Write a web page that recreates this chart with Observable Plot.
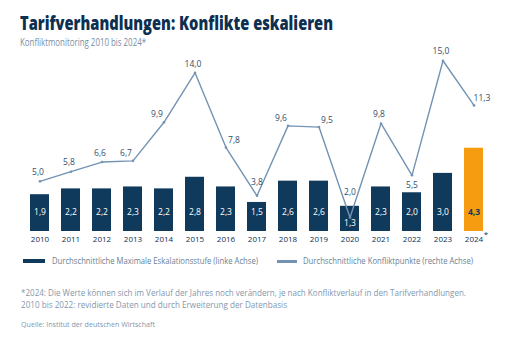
<!DOCTYPE html>
<html>
<head>
<meta charset="utf-8">
<script src="https://cdn.jsdelivr.net/npm/d3@7"></script>
<script src="https://cdn.jsdelivr.net/npm/@observablehq/plot@0.6"></script>
<style>
  html, body { margin: 0; padding: 0; background: #fff; }
  body { width: 510px; height: 340px; position: relative; overflow: hidden; font-family: "Open Sans", sans-serif; }
  .t { position: absolute; white-space: nowrap; transform-origin: 0 50%; line-height: 1; }
  #title { left: 20px; top: 13px; font-size: 20px; font-weight: 800; color: #0d2f50; }
  #subtitle { left: 20px; top: 37px; font-size: 10px; color: #7a8ea4; }
  #chart { position: absolute; left: 0; top: 45px; }
  .leg { position: absolute; top: 256px; font-size: 9px; color: #6b7f95; }
  .note { left: 21px; font-size: 9px; color: #8497ad; }
  #src { left: 21px; top: 320px; font-size: 8px; color: #8497ad; }
  .sw { position: absolute; }
</style>
</head>
<body>
<div id="title" class="t" data-w="313">Tarifverhandlungen: Konflikte eskalieren</div>
<div id="subtitle" class="t" data-w="126">Konfliktmonitoring 2010 bis 2024*</div>
<div id="chart"></div>
<div class="sw" style="left:23px;top:259px;width:22px;height:4px;background:#0f3a5c"></div>
<div class="t leg" style="left:52px" data-w="206">Durchschnittliche Maximale Eskalationsstufe (linke Achse)</div>
<div class="sw" style="left:277px;top:260px;width:20px;height:2.5px;background:#7393b3"></div>
<div class="t leg" style="left:303px" data-w="170">Durchschnittliche Konfliktpunkte (rechte Achse)</div>
<div class="t note" style="top:288px" data-w="445">*2024: Die Werte können sich im Verlauf der Jahres noch verändern, je nach Konfliktverlauf in den Tarifverhandlungen.</div>
<div class="t note" style="top:300px" data-w="266">2010 bis 2022: revidierte Daten und durch Erweiterung der Datenbasis</div>
<div id="src" class="t" data-w="134">Quelle: Institut der deutschen Wirtschaft</div>
<script>
const years = ["2010","2011","2012","2013","2014","2015","2016","2017","2018","2019","2020","2021","2022","2023","2024"];
const escalation = [1.9, 2.2, 2.2, 2.3, 2.2, 2.8, 2.3, 1.5, 2.6, 2.6, 1.3, 2.3, 2.0, 3.0, 4.3];
const conflictPoints = [5.0, 5.8, 6.6, 6.7, 9.9, 14.0, 7.8, 3.8, 9.6, 9.5, 2.0, 9.8, 5.5, 15.0, 11.3];
const highlightYear = "2024";

// dual axis: left axis domain and right axis domain share the same vertical span
const leftDomain = [0, 9.5];
const rightDomain = [0.84, 16.1];
const toLeft = v => (v - rightDomain[0]) / (rightDomain[1] - rightDomain[0]) * (leftDomain[1] - leftDomain[0]) + leftDomain[0];

const fmt = v => v.toFixed(1).replace(".", ",");
const navy = "#0f3a5c", orange = "#f59c10", lineCol = "#7393b3", labCol = "#2e4f6e";

const data = years.map((y, i) => ({year: y, esc: escalation[i], pts: conflictPoints[i], ptsL: toLeft(conflictPoints[i])}));

// label placements for the line values
const leftLab = ["2013", "2014", "2018"];
const rightLab = ["2016", "2019", "2024"];
const belowLab = ["2022"];
const highLab = ["2017"];
const barAbove = ["2020"];
const other = d => ![...leftLab, ...rightLab, ...belowLab, ...highLab, ...barAbove].includes(d.year);

const barLabelLevel = 1.0;
const isHi = d => d.year === highlightYear;

const plot = Plot.plot({
  width: 510,
  height: 205,
  marginLeft: 10,
  marginRight: 8,
  marginTop: 2,
  marginBottom: 19,
  style: {background: "transparent", fontFamily: "Open Sans, sans-serif", overflow: "visible"},
  x: {type: "band", domain: years, padding: 0.4, axis: null, label: null},
  y: {domain: leftDomain, axis: null},
  marks: [
    Plot.barY(data.filter(d => !isHi(d)), {x: "year", y: "esc", fill: navy}),
    Plot.barY(data.filter(isHi), {x: "year", y: "esc", fill: orange}),
    Plot.text(data.filter(d => !isHi(d) && d.year !== "2020"), {x: "year", y: () => barLabelLevel, text: d => fmt(d.esc), fill: "white", fontSize: 8.5}),
    Plot.text(data.filter(isHi), {x: "year", y: () => barLabelLevel, text: d => fmt(d.esc), fill: navy, fontWeight: "bold", fontSize: 8.5}),
    Plot.text(data.filter(d => d.year === "2020"), {x: "year", y: () => barLabelLevel, dy: 11, text: d => fmt(d.esc), fill: "white", fontSize: 8.5}),
    Plot.lineY(data, {x: "year", y: "ptsL", stroke: lineCol, strokeWidth: 1.4}),
    Plot.dot(data, {x: "year", y: "ptsL", r: 1.3, fill: lineCol}),
    Plot.text(data.filter(other), {x: "year", y: "ptsL", text: d => fmt(d.pts), dy: -9, dx: -2, fill: labCol, fontSize: 8.5}),
    Plot.text(data.filter(d => highLab.includes(d.year)), {x: "year", y: "ptsL", text: d => fmt(d.pts), dy: -14, fill: labCol, fontSize: 8.5}),
    Plot.text(data.filter(d => barAbove.includes(d.year)), {x: "year", y: "ptsL", text: d => fmt(d.pts), dy: -25, fill: labCol, fontSize: 8.5}),
    Plot.text(data.filter(d => leftLab.includes(d.year)), {x: "year", y: "ptsL", text: d => fmt(d.pts), dy: -8, dx: -7, fill: labCol, fontSize: 8.5}),
    Plot.text(data.filter(d => rightLab.includes(d.year)), {x: "year", y: "ptsL", text: d => fmt(d.pts), dy: -7, dx: 8, fill: labCol, fontSize: 8.5}),
    Plot.text(data.filter(d => belowLab.includes(d.year)), {x: "year", y: "ptsL", text: d => fmt(d.pts), dy: 10, fill: labCol, fontSize: 8.5}),
    Plot.axisX({domain: years, tickSize: 0, tickPadding: 5, fontSize: 8, color: "#0d2f50", label: null}),
    Plot.text([highlightYear], {x: d => d, y: () => 0, dy: 3, dx: 12, text: () => "*", fontSize: 8, fill: "#0d2f50"})
  ]
});
document.getElementById("chart").appendChild(plot);

// fit text widths to the reference (compress like a condensed face)
document.querySelectorAll("[data-w]").forEach(el => {
  const w = el.getBoundingClientRect().width;
  const target = +el.dataset.w;
  el.style.transform = `scaleX(${target / w})`;
});
</script>
</body>
</html>
